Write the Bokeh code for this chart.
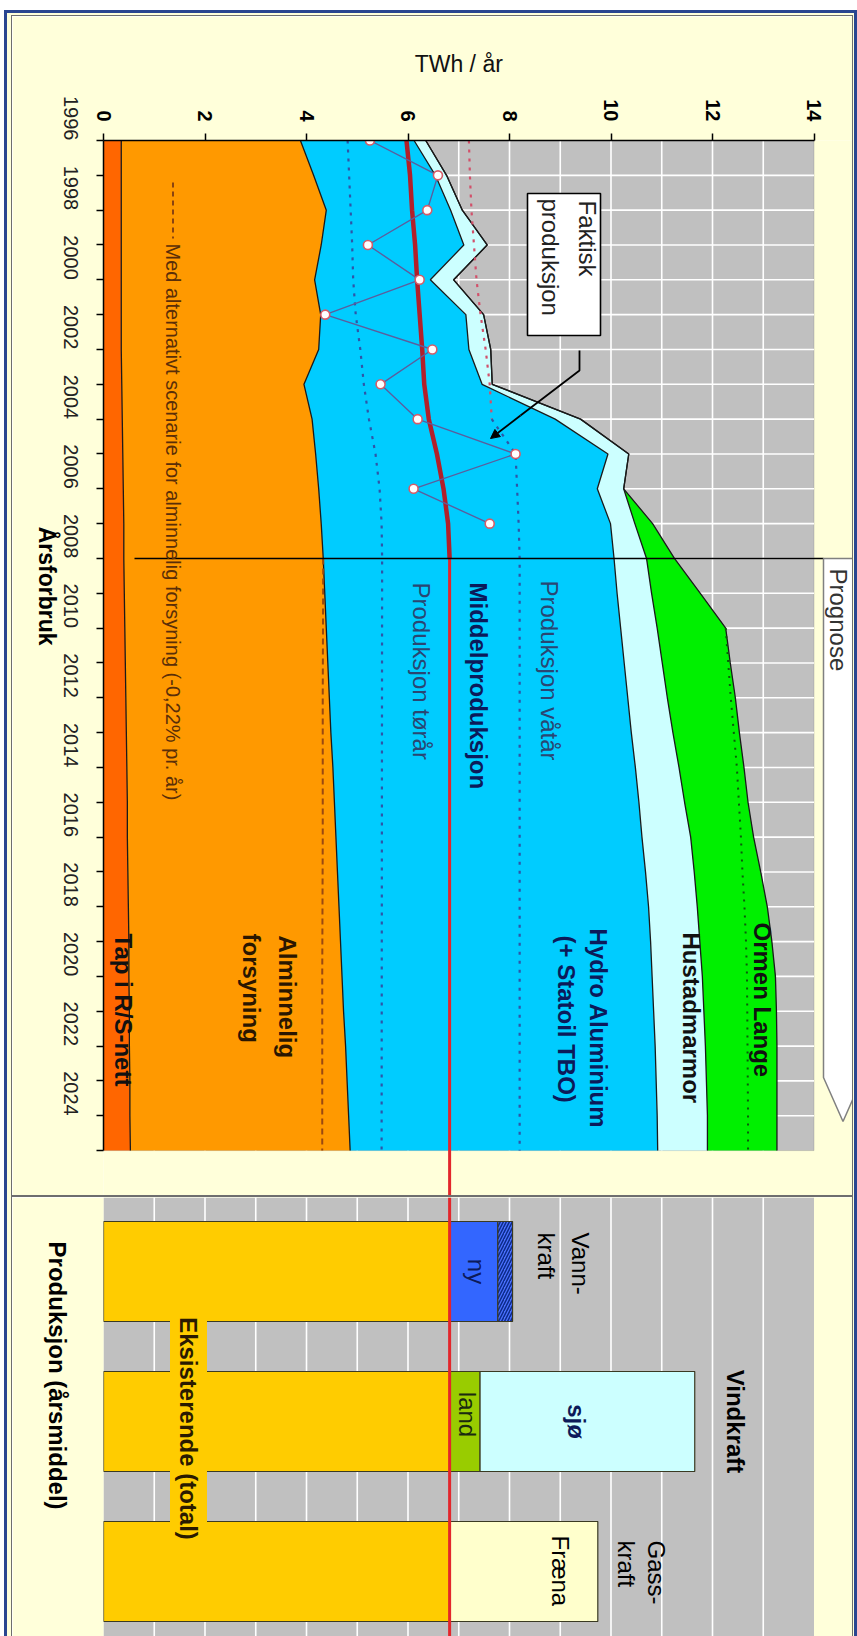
import math
from bokeh.plotting import figure
from bokeh.layouts import column, row
from bokeh.models import (ColumnDataSource, Range1d, LinearAxis, FixedTicker, Label,
                          BoxAnnotation, Span, Arrow, NormalHead, Spacer)
from bokeh.embed import file_html
from bokeh.resources import INLINE

# ---------------- data (TWh / år) ----------------
years = list(range(1996, 2026))

tap_rs_nett = [0.35, 0.35, 0.35, 0.35, 0.35, 0.35, 0.35, 0.36, 0.37, 0.38,
               0.39, 0.40, 0.40, 0.41, 0.42, 0.43, 0.44, 0.45, 0.46, 0.47,
               0.47, 0.48, 0.49, 0.50, 0.50, 0.51, 0.51, 0.52, 0.52, 0.53]
alminnelig_forsyning = [3.53, 3.79, 4.04, 3.94, 3.81, 3.93, 3.89, 3.59, 3.74, 3.80,
                        3.85, 3.89, 3.93, 3.95, 3.97, 3.99, 4.01, 4.03, 4.06, 4.08,
                        4.11, 4.13, 4.15, 4.17, 4.20, 4.22, 4.26, 4.28, 4.31, 4.33]
hydro_aluminium = [2.24, 2.40, 2.45, 2.81, 2.28, 2.86, 2.96, 3.51, 4.79, 5.76,
                   5.49, 5.70, 5.73, 5.76, 5.80, 5.84, 5.88, 5.92, 5.96, 6.00,
                   6.03, 6.07, 6.10, 6.11, 6.11, 6.11, 6.10, 6.09, 6.08, 6.06]
hustadmarmor = [0.23, 0.22, 0.23, 0.46, 0.46, 0.35, 0.43, 0.20, 0.50, 0.41,
                0.52, 0.48, 0.64, 0.68, 0.72, 0.75, 0.78, 0.82, 0.86, 0.90,
                0.96, 0.96, 0.96, 0.97, 0.99, 0.99, 0.99, 0.99, 0.99, 0.98]
ormen_lange = [0.00, 0.00, 0.00, 0.00, 0.00, 0.00, 0.00, 0.00, 0.00, 0.00,
               0.00, 0.35, 0.55, 0.96, 1.35, 1.34, 1.34, 1.31, 1.28, 1.25,
               1.24, 1.31, 1.38, 1.42, 1.44, 1.43, 1.41, 1.39, 1.37, 1.37]

middel_years = list(range(1996, 2009))
middelproduksjon = [5.97, 6.04, 6.08, 6.14, 6.18, 6.23, 6.28, 6.32, 6.41, 6.57,
                    6.70, 6.79, 6.82]

faktisk_years = list(range(1996, 2008))
faktisk_produksjon = [5.25, 6.59, 6.38, 5.21, 6.23, 4.37, 6.48, 5.46, 6.19, 8.12,
                      6.11, 7.61]

torrar_years = list(range(1996, 2009)) + [2025]
produksjon_torrar = [4.81, 4.84, 4.87, 4.90, 4.92, 4.97, 5.06, 5.13, 5.23, 5.36,
                     5.44, 5.48, 5.49, 5.48]

vatar_years = list(range(1996, 2009)) + [2025]
produksjon_vatar = [7.20, 7.22, 7.25, 7.30, 7.35, 7.43, 7.53, 7.61, 7.65, 8.12,
                    8.15, 8.18, 8.20, 8.20]

alt_years = [2008, 2012, 2016, 2020, 2025]
alt_alminnelig = [4.33, 4.32, 4.32, 4.31, 4.31]

ormen_alt_years = [2010, 2011, 2012, 2013, 2014, 2015, 2016, 2017, 2018, 2019,
                   2020, 2022, 2024, 2025]
ormen_alt = [12.26, 12.31, 12.36, 12.42, 12.48, 12.52, 12.56, 12.59, 12.63, 12.66,
             12.68, 12.69, 12.70, 12.70]

twh_ticks = list(range(0, 15, 2))
year_ticks = list(range(1996, 2025, 2))
year_minor = list(range(1997, 2026, 2))

kategorier = ["Vannkraft", "Vindkraft", "Gasskraft"]
eksisterende = [6.82, 6.82, 6.82]
tilvekst_1 = [0.95, 0.60, 2.92]   # ny vannkraft, vind på land, Fræna
tilvekst_2 = [0.29, 4.23, 0.00]   # opprusting vannkraft, vind til sjøs

# ---------------- styling ----------------
YELLOW = "#FFFFDA"
GRAY = "#C0C0C0"
FONT = "Liberation Sans"
BLUE_FRAME = "#2A4690"
PANEL_LINE = "#6E6E6E"

PAGE_W, PAGE_H = 857, 1636
FIG_X0, FIG_X1 = 12, 852            # page columns covered by the two charts
TOP_Y0, TOP_Y1 = 16, 1195           # page rows of the upper chart
BOT_Y0 = 1197                       # first page row of the lower chart

X0, KX = 103.0, 50.75               # page x of 0 TWh and px per TWh
Y0, KY = 140.0, 34.83               # page y of 1996 and px per year
YB0, KB = 1196.0, 150.0             # page y of first bar band edge, px per band


def px2x(px):
    return (px - X0) / KX


def py2yr(py):
    return 1996 + (py - Y0) / KY


def py2c(py):
    return -0.5 + (py - YB0) / KB


def rlabel(p, x, y, text, size=24, bold=False, color="black", align="left", bg=None):
    kw = {}
    if bg is not None:
        kw = dict(background_fill_color=bg, padding=5)
    p.add_layout(Label(x=x, y=y, text=text, angle=-math.pi / 2, text_align=align,
                       text_baseline="middle", text_font=FONT,
                       text_font_size=f"{size}px",
                       text_font_style="bold" if bold else "normal",
                       text_color=color, **kw))


def text_axis(tick, text, orientation, standoff, size, bold=False, color="black"):
    # an axis that only carries one text label (used for titles outside the frame)
    return LinearAxis(ticker=FixedTicker(ticks=[tick], minor_ticks=[]),
                      major_label_overrides={tick: text},
                      major_label_orientation=orientation,
                      axis_line_color=None, major_tick_line_color=None,
                      minor_tick_line_color=None, major_label_standoff=standoff,
                      major_label_text_font=FONT,
                      major_label_text_font_size=f"{size}px",
                      major_label_text_font_style="bold" if bold else "normal",
                      major_label_text_color=color)


def block(w, h, color):
    return Spacer(width=w, height=h, styles={"background-color": color})


fig_w = FIG_X1 - FIG_X0

# ================= upper chart: årsforbruk =================
top = figure(width=fig_w, height=TOP_Y1 - TOP_Y0,
             x_range=Range1d(0, px2x(FIG_X1)),
             y_range=Range1d(py2yr(TOP_Y1), 1996),
             x_axis_type=None, y_axis_type=None,
             toolbar_location=None, output_backend="svg",
             min_border_left=int(X0) - FIG_X0, min_border_right=0,
             min_border_top=int(Y0) - TOP_Y0, min_border_bottom=0,
             background_fill_color=YELLOW, border_fill_color=YELLOW,
             outline_line_color=None)

top.add_layout(BoxAnnotation(left=0, right=14, top=years[0], bottom=years[-1],
                             fill_color=GRAY, fill_alpha=1, line_color="#7F7F7F",
                             line_width=1, level="underlay"))

grid_x = list(range(1, 14))
top.segment(x0=grid_x, y0=years[0], x1=grid_x, y1=years[-1],
            line_color="white", line_width=1.6)
grid_y = years[1:-1]
top.segment(x0=0, y0=grid_y, x1=14, y1=grid_y, line_color="white", line_width=1.6)

src = ColumnDataSource(dict(year=years, tap=tap_rs_nett, alm=alminnelig_forsyning,
                            hydro=hydro_aluminium, hustad=hustadmarmor,
                            ormen=ormen_lange))
stackers = ["tap", "alm", "hydro", "hustad", "ormen"]
top.harea_stack(stackers=stackers, y="year", source=src,
                color=["#FF6600", "#FF9900", "#00CCFF", "#CCFFFF", "#00F000"])
top.hline_stack(stackers=stackers, y="year", source=src,
                line_color="#1A1A1A", line_width=1.3)

# alternative scenario for alminnelig forsyning
top.line(x=alt_alminnelig, y=alt_years, line_color="#9A4A10", line_width=2,
         line_dash="6 4")

# dry / wet year production
top.line(x=produksjon_torrar, y=torrar_years, line_color="#2E55A8", line_width=2.2,
         line_dash="3 6")
top.line(x=produksjon_vatar[:9], y=vatar_years[:9], line_color="#D2506A",
         line_width=2.2, line_dash="3 6")
top.line(x=produksjon_vatar[8:], y=vatar_years[8:], line_color="#2E55A8",
         line_width=2.2, line_dash="3 6")
top.line(x=ormen_alt, y=ormen_alt_years, line_color="#0B5A0B", line_width=2,
         line_dash="2 6")

# middelproduksjon, historic and forecast
top.line(x=middelproduksjon, y=middel_years, line_color="#B2202A", line_width=4.5)
top.line(x=[middelproduksjon[-1], middelproduksjon[-1]],
         y=[middel_years[-1], py2yr(TOP_Y1)], line_color="#E3262B", line_width=3)

# faktisk produksjon
top.line(x=faktisk_produksjon, y=faktisk_years, line_color="#5A5E9E", line_width=1.4)
top.scatter(x=faktisk_produksjon, y=faktisk_years, size=9, fill_color="white",
            line_color="#D65C68", line_width=1.6)

# start of forecast period
top.segment(x0=px2x(134), y0=2008, x1=px2x(823), y1=2008,
            line_color="black", line_width=1.6)
top.patch([px2x(823), px2x(862), px2x(862), px2x(842.5), px2x(823)],
          [2008, 2008, py2yr(1077), py2yr(1121), py2yr(1077)],
          fill_color="white", line_color="#808080", line_width=1.5)

# callout box for faktisk produksjon
top.quad(left=px2x(527), right=px2x(600), top=py2yr(193), bottom=py2yr(335),
         fill_color="white", line_color="black", line_width=1.6)
top.line(x=[px2x(579), px2x(579), px2x(520)], y=[py2yr(350), py2yr(370), py2yr(415)],
         line_color="black", line_width=1.8)
top.add_layout(Arrow(end=NormalHead(size=9, fill_color="black", line_color="black"),
                     x_start=px2x(520), y_start=py2yr(415),
                     x_end=px2x(490), y_end=py2yr(438),
                     line_color="black", line_width=1.8))

# axes
ax_top = LinearAxis(ticker=FixedTicker(ticks=twh_ticks, minor_ticks=[]),
                    bounds=(0, 14), major_label_orientation=-math.pi / 2,
                    major_tick_out=7, major_tick_in=0, minor_tick_out=0,
                    major_label_standoff=12, axis_line_color="black",
                    axis_line_width=1.5, major_tick_line_width=1.5,
                    major_label_text_font=FONT, major_label_text_font_size="20px",
                    major_label_text_font_style="bold",
                    major_label_text_color="black")
top.add_layout(ax_top, "above")
top.add_layout(text_axis(7, "TWh / år", "horizontal", 14, 23, color="#111111"), "above")

ax_left = LinearAxis(ticker=FixedTicker(ticks=year_ticks, minor_ticks=year_minor),
                     bounds=(years[0], years[-1]),
                     major_label_orientation=-math.pi / 2,
                     major_tick_out=7, major_tick_in=0, minor_tick_out=7,
                     minor_tick_in=0, major_label_standoff=26,
                     axis_line_color="black", axis_line_width=1.5,
                     major_tick_line_width=1.3, minor_tick_line_width=1.3,
                     minor_tick_line_color="black",
                     major_label_text_font=FONT, major_label_text_font_size="20px",
                     major_label_text_color="#222222")
top.add_layout(ax_left, "left")
top.add_layout(text_axis(2010.5, "Årsforbruk", -math.pi / 2, 1, 23, bold=True), "left")

# texts
rlabel(top, px2x(587), py2yr(200), "Faktisk", color="#222222")
rlabel(top, px2x(550), py2yr(198), "produksjon", color="#222222")
rlabel(top, px2x(478), py2yr(582), "Middelproduksjon", bold=True, color="#0C1A5A")
rlabel(top, px2x(549), py2yr(580), "Produksjon våtår", color="#2A4672")
rlabel(top, px2x(421), py2yr(582), "Produksjon tørår", color="#2A4672")
rlabel(top, px2x(598), py2yr(928), "Hydro Aluminium", bold=True, color="#0C1A5A")
rlabel(top, px2x(566), py2yr(935), "(+ Statoil TBO)", bold=True, color="#0C1A5A")
rlabel(top, px2x(691), py2yr(932), "Hustadmarmor", bold=True, color="#111111")
rlabel(top, px2x(762), py2yr(922), "Ormen Lange", bold=True, color="#111111")
rlabel(top, px2x(287), py2yr(935), "Alminnelig", bold=True, color="#2A1600")
rlabel(top, px2x(251), py2yr(933), "forsyning", bold=True, color="#2A1600")
rlabel(top, px2x(123), py2yr(933), "Tap i R/S-nett", bold=True, color="#111111")
top.line(x=[px2x(172.5), px2x(172.5)], y=[py2yr(182), py2yr(238)],
         line_color="#8A4410", line_width=2, line_dash="5 4")
rlabel(top, px2x(172.5), py2yr(243),
       "Med alternativt scenarie for alminnelig forsyning (-0,22% pr. år)",
       size=20, color="#5A2E08")
rlabel(top, px2x(838), py2yr(568), "Prognose", color="#333333")

# ================= lower chart: produksjon =================
bot = figure(width=fig_w, height=PAGE_H - BOT_Y0,
             x_range=Range1d(0, px2x(FIG_X1)),
             y_range=Range1d(py2c(PAGE_H), py2c(BOT_Y0)),
             x_axis_type=None, y_axis_type=None,
             toolbar_location=None, output_backend="svg",
             min_border_left=int(X0) - FIG_X0, min_border_right=0,
             min_border_top=0, min_border_bottom=0,
             background_fill_color=YELLOW, border_fill_color=YELLOW,
             outline_line_color=None)

bot.add_layout(BoxAnnotation(left=0, right=14, fill_color=GRAY, fill_alpha=1,
                             line_color=None, level="underlay"))
bot.segment(x0=grid_x, y0=-0.5, x1=grid_x, y1=3, line_color="white", line_width=1.6)

ypos = list(range(len(kategorier)))
bar_h = 100 / KB
seg1_right = [e + t for e, t in zip(eksisterende, tilvekst_1)]
seg2_right = [s + t for s, t in zip(seg1_right, tilvekst_2)]
outline = "#3A3A22"

bot.hbar(y=ypos, left=0, right=eksisterende, height=bar_h, fill_color="#FFCC00",
         line_color=outline, line_width=1.2)
bot.hbar(y=ypos, left=eksisterende, right=seg1_right, height=bar_h,
         fill_color=["#3366FF", "#99CC00", "#FFFFCC"], line_color=outline,
         line_width=1.2)
bot.hbar(y=ypos[0:1], left=seg1_right[0:1], right=seg2_right[0:1], height=bar_h,
         fill_color="#4A70FF", hatch_pattern="/", hatch_color="#0B2A8A",
         hatch_scale=6, hatch_weight=1.5, line_color=outline, line_width=1.2)
bot.hbar(y=ypos[1:2], left=seg1_right[1:2], right=seg2_right[1:2], height=bar_h,
         fill_color="#CCFFFF", line_color=outline, line_width=1.2)

bot.add_layout(Span(location=middelproduksjon[-1], dimension="height",
                    line_color="#E3262B", line_width=3))

bot.add_layout(text_axis(1, "Produksjon (årsmiddel)", -math.pi / 2, 40, 24,
                         bold=True), "left")

rlabel(bot, px2x(580), py2c(1232), "Vann-")
rlabel(bot, px2x(546), py2c(1232), "kraft")
rlabel(bot, px2x(476), ypos[0], "ny", color="#0C1A5A", align="center")
rlabel(bot, px2x(735), ypos[1], "Vindkraft", bold=True, align="center")
rlabel(bot, px2x(576), ypos[1], "sjø", bold=True, color="#0C1A5A", align="center")
rlabel(bot, px2x(467), py2c(1414), "land", color="#1A2A10", align="center")
rlabel(bot, px2x(656), py2c(1540), "Gass-")
rlabel(bot, px2x(626), py2c(1540), "kraft")
rlabel(bot, px2x(560), py2c(1535), "Fræna")
rlabel(bot, px2x(188), py2c(1428), "Eksisterende (total)", bold=True, color="#2A1A00",
       align="center", bg="#FFCC00")

# ================= page frame =================
H_BELOW = PAGE_H - 10
center = column(block(fig_w, 10, "white"), block(fig_w, 3, BLUE_FRAME),
                block(fig_w, 2, YELLOW), block(fig_w, 1, PANEL_LINE),
                top, block(fig_w, BOT_Y0 - TOP_Y1, PANEL_LINE), bot, spacing=0)


def side_strip(w, inner):
    parts = [block(w, 10, "white"), block(w, 3, BLUE_FRAME)]
    if inner:
        parts += [block(w, 2, YELLOW), block(w, PAGE_H - 15, PANEL_LINE)]
    else:
        parts += [block(w, PAGE_H - 13, YELLOW)]
    return column(*parts, spacing=0)


page = row(block(4, PAGE_H, "white"),
           column(block(3, 10, "white"), block(3, H_BELOW, BLUE_FRAME), spacing=0),
           side_strip(4, False),
           side_strip(1, True),
           center,
           side_strip(1, True),
           side_strip(1, False),
           column(block(3, 10, "white"), block(3, H_BELOW, BLUE_FRAME), spacing=0),
           spacing=0)

open("out.html", "w").write(file_html(page, INLINE))
